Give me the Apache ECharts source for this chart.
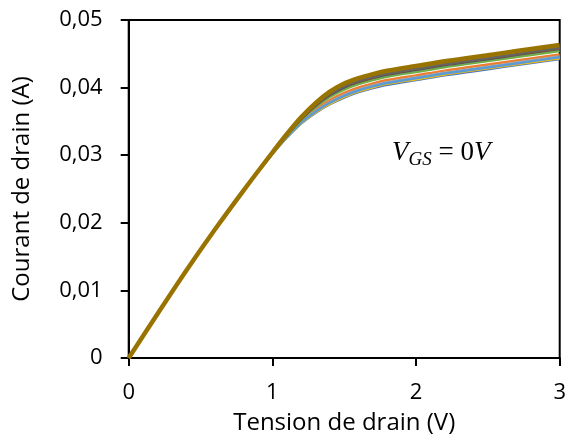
<!DOCTYPE html>
<html><head><meta charset="utf-8">
<script src="https://cdn.jsdelivr.net/npm/echarts@6/dist/echarts.min.js"></script>
<style>html,body{margin:0;padding:0;background:#fff}#c{width:569px;height:444px}</style>
</head><body><div id="c"></div>
<script>
var tension = [0,0.2,0.4,0.6,0.8,1.0,1.1,1.2,1.3,1.4,1.5,1.6,1.7,1.8,2.0,2.2,2.4,2.6,2.8,3.0];
var s1 = [0,0.0065,0.0129,0.0190,0.0248,0.03019,0.03258,0.03467,0.03625,0.03754,0.03853,0.03933,0.03993,0.04043,0.04113,0.04183,0.04243,0.04303,0.04363,0.04423];
var s2 = [0,0.0065,0.0129,0.0190,0.0248,0.03026,0.03275,0.03497,0.03673,0.03815,0.03921,0.04001,0.04061,0.04111,0.04181,0.04251,0.04311,0.04371,0.04431,0.04491];
var s3 = [0,0.0065,0.0129,0.0190,0.0248,0.03023,0.03267,0.03483,0.03651,0.03787,0.0389,0.0397,0.0403,0.0408,0.0415,0.0422,0.0428,0.0434,0.044,0.0446];
var s4 = [0,0.0065,0.0129,0.0190,0.0248,0.0302,0.03261,0.03472,0.03633,0.03764,0.03865,0.03945,0.04005,0.04055,0.04125,0.04195,0.04255,0.04315,0.04375,0.04435];
var s5 = [0,0.0065,0.0129,0.0190,0.0248,0.03022,0.03264,0.03478,0.03643,0.03776,0.03878,0.03958,0.04018,0.04068,0.04138,0.04208,0.04268,0.04328,0.04388,0.04448];
var s6 = [0,0.0065,0.0129,0.0190,0.0248,0.03031,0.03288,0.0352,0.03708,0.03861,0.03972,0.04052,0.04112,0.04162,0.04232,0.04302,0.04362,0.04422,0.04482,0.04542];
var s7 = [0,0.0065,0.0129,0.0190,0.0248,0.03034,0.03296,0.03535,0.03731,0.0389,0.04004,0.04084,0.04144,0.04194,0.04264,0.04334,0.04394,0.04454,0.04514,0.04574];
var s8 = [0,0.0065,0.0129,0.0190,0.0248,0.03035,0.03298,0.03538,0.03735,0.03895,0.0401,0.0409,0.0415,0.042,0.0427,0.0434,0.044,0.0446,0.0452,0.0458];
var s9 = [0,0.0065,0.0129,0.0190,0.0248,0.03036,0.03299,0.0354,0.03738,0.039,0.04015,0.04095,0.04155,0.04205,0.04275,0.04345,0.04405,0.04465,0.04525,0.04585];
var s10 = [0,0.0065,0.0129,0.0190,0.0248,0.0304,0.0331,0.0356,0.0377,0.0394,0.0406,0.0414,0.0420,0.0425,0.0432,0.0439,0.0445,0.0451,0.0457,0.0463];
var seriesData = [s1,s2,s3,s4,s5,s6,s7,s8,s9,s10];
var colors = ['#4472C4','#ED7D31','#A5A5A5','#FFC000','#5B9BD5','#70AD47','#264478','#9E480E','#636363','#997300'];
var widths = [2.5,2.5,2.5,2.5,2.5,2.5,2.5,2.5,2.5,4.5];

var chart = echarts.init(document.getElementById('c'));
var font = '"Open Sans", Lato, sans-serif';
var serif = '"Liberation Serif", "DejaVu Serif", serif';
var series = seriesData.map(function(d,i){
  return {
    type:'line', data: tension.map(function(v,j){return [v,d[j]];}),
    showSymbol:false, smooth:0.3, color: colors[i],
    lineStyle:{width:widths[i], color:colors[i]}, animation:false, z: 2+i
  };
});
chart.setOption({
  animation:false,
  grid:{left:128.7,right:8.3,top:20,bottom:86,show:true,borderColor:'#000',borderWidth:2},
  xAxis:{type:'value',min:0,max:3,interval:1,
    name:'Tension de drain (V)',nameLocation:'middle',nameGap:53,
    nameTextStyle:{fontFamily:font,fontSize:24,color:'#000'},
    axisLine:{show:true,lineStyle:{color:'#000',width:2}},
    axisTick:{show:true,length:8,lineStyle:{color:'#000',width:2}},
    axisLabel:{fontFamily:font,fontSize:22,color:'#000',margin:24},
    splitLine:{show:false}},
  yAxis:{type:'value',min:0,max:0.05,interval:0.01,
    name:'Courant de drain (A)',nameLocation:'middle',nameGap:95,
    nameTextStyle:{fontFamily:font,fontSize:24,color:'#000'},
    axisLine:{show:true,lineStyle:{color:'#000',width:2}},
    axisTick:{show:true,length:8,lineStyle:{color:'#000',width:2}},
    axisLabel:{fontFamily:font,fontSize:22,color:'#000',margin:26,
      formatter:function(v){return v===0?'0':v.toFixed(2).replace('.',',');}},
    splitLine:{show:false}},
  graphic:[{type:'text',left:392,top:139,z:100,
    style:{rich:{
      v:{fontFamily:serif,fontStyle:'italic',fontSize:27,fill:'#000'},
      s:{fontFamily:serif,fontStyle:'italic',fontSize:19,fill:'#000',padding:[14,0,0,0]},
      n:{fontFamily:serif,fontSize:27,fill:'#000'}
    },text:'{v|V}{s|GS}{n| = 0}{v|V}'}}],
  series:series
});
</script></body></html>
